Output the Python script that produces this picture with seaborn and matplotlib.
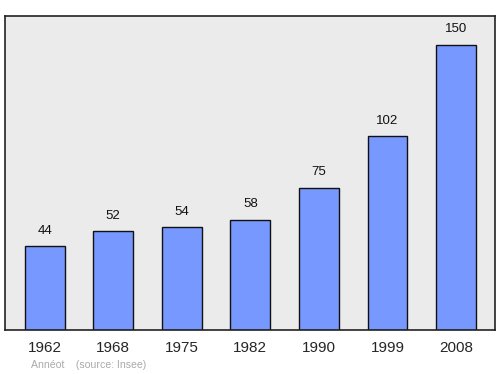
import matplotlib
matplotlib.use("Agg")
import matplotlib.pyplot as plt
import seaborn as sns
import pandas as pd

years = ["1962", "1968", "1975", "1982", "1990", "1999", "2008"]
population = [44, 52, 54, 58, 75, 102, 150]

sns.set_style("white")
plt.rcParams['font.family'] = ['Liberation Sans', 'DejaVu Sans']

df = pd.DataFrame({"year": years, "pop": population})

fig = plt.figure(figsize=(5, 3.74), dpi=100)
ax = fig.add_axes([0.01, 0.1176, 0.98, 0.8396])
ax.set_facecolor("#ebebeb")

sns.barplot(data=df, x="year", y="pop", ax=ax, color="#7799ff", saturation=1,
            width=0.58, edgecolor="#111111", linewidth=1)

for i, v in enumerate(population):
    ax.annotate(str(v), (i, v), xytext=(0, 7), textcoords="offset points",
                ha="center", va="bottom", fontsize=9.5, color="#111111")

ax.set_xlim(-0.58, 6.57)
ax.set_ylim(0, 165.3)
ax.set_yticks([])
ax.set_xlabel("")
ax.set_ylabel("")
ax.tick_params(axis="x", length=0, labelsize=11, pad=8)
for s in ax.spines.values():
    s.set_visible(True)
    s.set_color("#222222")
    s.set_linewidth(1.2)

fig.text(0.062, 0.017, "Annéot    (source: Insee)", fontsize=7.6, color="#aaaaaa",
         ha="left", va="baseline")

fig.savefig("out.png", dpi=100)
